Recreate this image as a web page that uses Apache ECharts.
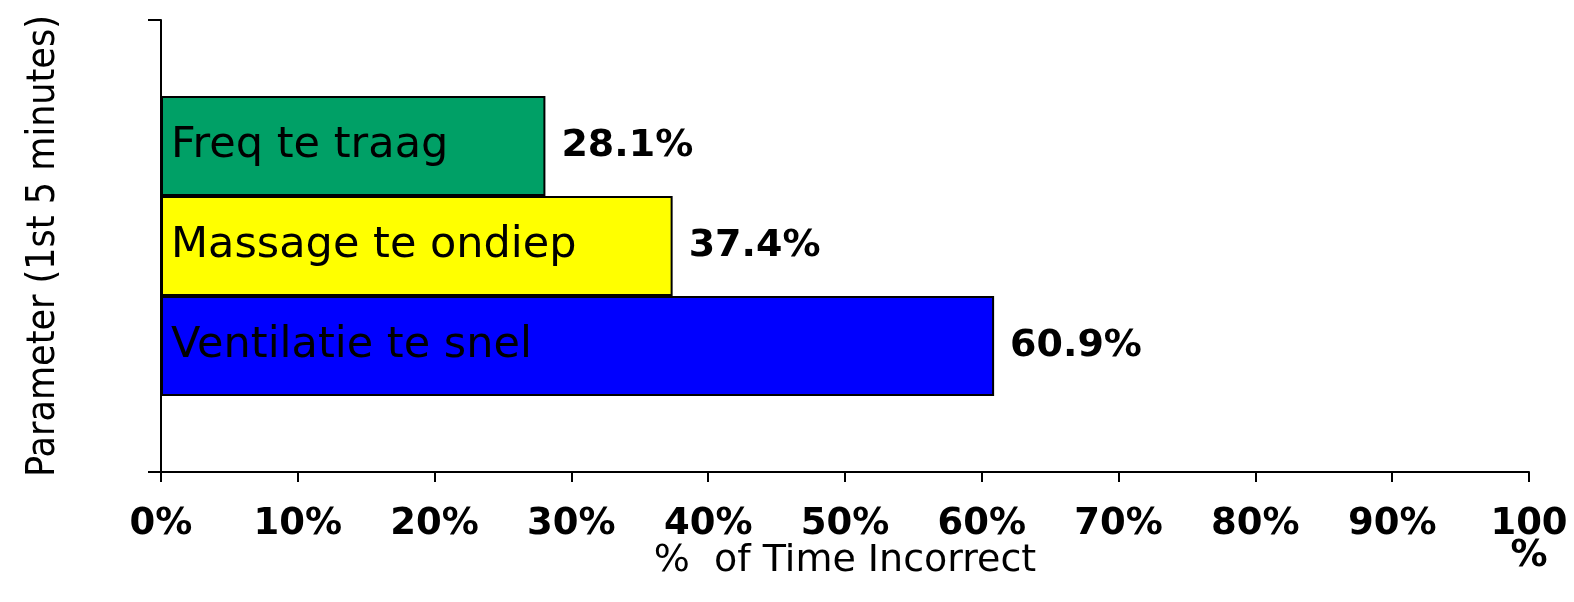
<!DOCTYPE html>
<html>
<head>
<meta charset="utf-8">
<script src="https://cdn.jsdelivr.net/npm/echarts@6/dist/echarts.min.js"></script>
<style>
  html, body { margin: 0; padding: 0; background: #fff; }
  #main { width: 1574px; height: 602px; }
</style>
</head>
<body>
<div id="main"></div>
<script>
// data
var names = ['Freq te traag', 'Massage te ondiep', 'Ventilatie te snel'];
var values = [28.1, 37.4, 60.9];
var colors = ['#00a066', '#ffff00', '#0000ff'];
var xTicks = [0, 10, 20, 30, 40, 50, 60, 70, 80, 90, 100];

var chart = echarts.init(document.getElementById('main'));

var series = [];
names.forEach(function (n, i) {
    // the bar itself, name written inside
    series.push({
        name: n,
        type: 'bar',
        stack: 's' + i,
        barWidth: 100,
        barGap: 0,
        data: [values[i]],
        itemStyle: { color: colors[i], borderColor: '#000', borderWidth: 2 },
        label: {
            show: true,
            position: 'insideLeft',
            distance: 10,
            formatter: n,
            color: '#000',
            fontFamily: 'DejaVu Sans',
            fontSize: 43
        }
    });
    // empty bar at the end, only carries the value label
    series.push({
        name: n + '_v',
        type: 'bar',
        stack: 's' + i,
        barWidth: 100,
        barGap: 0,
        silent: true,
        data: [0],
        itemStyle: { color: 'transparent', borderWidth: 0 },
        label: {
            show: true,
            position: 'right',
            distance: 16,
            formatter: values[i].toFixed(1) + '%',
            color: '#000',
            fontFamily: 'DejaVu Sans',
            fontWeight: 'bold',
            fontSize: 38
        }
    });
});

var option = {
    animation: false,
    grid: { left: 161, right: 45, top: 20, bottom: 130, outerBoundsMode: 'none' },
    xAxis: {
        type: 'value',
        min: 0,
        max: 100,
        interval: 10,
        name: '%  of Time Incorrect',
        nameLocation: 'middle',
        nameGap: 70,
        nameMoveOverlap: false,
        nameTextStyle: { color: '#000', fontFamily: 'DejaVu Sans', fontSize: 38, verticalAlign: 'top' },
        axisLine: { show: true, lineStyle: { color: '#000', width: 2 } },
        axisTick: { show: true, length: 10, lineStyle: { color: '#000', width: 2 } },
        splitLine: { show: false },
        axisLabel: {
            color: '#000',
            fontFamily: 'DejaVu Sans',
            fontWeight: 'bold',
            fontSize: 37,
            margin: 36,
            lineHeight: 32,
            formatter: function (v) {
                return v === 100 ? '100\n%' : v + '%';
            }
        }
    },
    yAxis: {
        type: 'category',
        data: [''],
        name: 'Parameter (1st 5 minutes)',
        nameLocation: 'middle',
        nameGap: 98,
        nameMoveOverlap: false,
        nameTextStyle: { color: '#000', fontFamily: 'DejaVu Sans Condensed, DejaVu Sans', fontSize: 39 },
        axisLine: { show: true, lineStyle: { color: '#000', width: 2 } },
        axisTick: { show: true, length: 13, lineStyle: { color: '#000', width: 2 } },
        axisLabel: { show: false }
    },
    series: series
};
chart.setOption(option);
</script>
</body>
</html>
